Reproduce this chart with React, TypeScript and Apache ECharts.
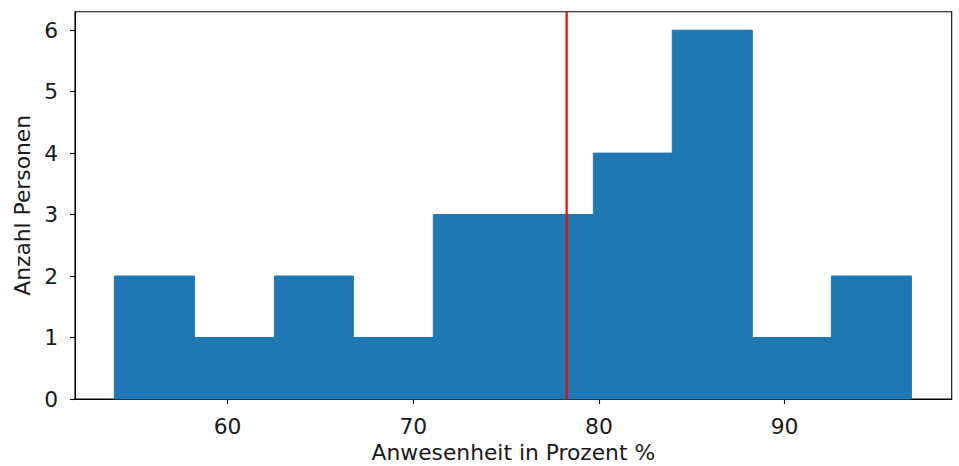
import React, { useEffect, useRef } from "react";
import * as echarts from "echarts";

// Histogram bin edges (Anwesenheit in Prozent %)
const BIN_EDGES: number[] = [53.9, 58.21, 62.52, 66.77, 71.08, 75.39, 79.7, 83.95, 88.26, 92.52, 96.83];
// Count of persons in each bin
const COUNTS: number[] = [2, 1, 2, 1, 3, 3, 4, 6, 1, 2];
// Red reference line (mean attendance)
const MEAN_VALUE = 78.26;
// Axis tick values
const X_TICKS: number[] = [60, 70, 80, 90];
const Y_TICKS: number[] = [0, 1, 2, 3, 4, 5, 6];
const X_MIN = 51.78;
const X_MAX = 99.0;
const Y_MAX = 6.3;

const X_LABEL = "Anwesenheit in Prozent %";
const Y_LABEL = "Anzahl Personen";

const FONT = "DejaVu Sans";
const FS = 21.8;
const TEXT_COLOR = "#1a1a1a";

export default function App() {
  const ref = useRef<HTMLDivElement>(null);

  useEffect(() => {
    if (!ref.current) return;
    const chart = echarts.init(ref.current, null, { renderer: "svg" });

    const histData = COUNTS.map((c, i) => [BIN_EDGES[i], BIN_EDGES[i + 1], c]);

    chart.setOption({
      animation: false,
      backgroundColor: "#ffffff",
      grid: {
        left: 75,
        right: 7.3,
        top: 11.7,
        bottom: 67,
        containLabel: false,
        outerBoundsMode: "none",
        show: true,
        borderColor: "#000",
        borderWidth: 1.1,
        backgroundColor: "transparent",
      },
      xAxis: {
        type: "value",
        min: X_MIN,
        max: X_MAX,
        name: X_LABEL,
        nameLocation: "middle",
        nameGap: 45,
        nameTextStyle: { fontFamily: FONT, fontSize: FS, color: TEXT_COLOR, lineHeight: 16 },
        axisLine: { show: true, onZero: false, lineStyle: { color: "#000", width: 1.1 } },
        axisTick: { show: true, inside: false, length: 5, customValues: X_TICKS, lineStyle: { color: "#000", width: 1.1 } },
        axisLabel: { customValues: X_TICKS, margin: 16, fontFamily: FONT, fontSize: FS, color: TEXT_COLOR },
        splitLine: { show: false },
      },
      yAxis: {
        type: "value",
        min: 0,
        max: Y_MAX,
        name: Y_LABEL,
        nameLocation: "middle",
        nameGap: 42,
        nameTextStyle: { fontFamily: FONT, fontSize: FS, color: TEXT_COLOR },
        axisLine: { show: true, lineStyle: { color: "#000", width: 1.1 } },
        axisTick: { show: true, inside: false, length: 5, customValues: Y_TICKS, lineStyle: { color: "#000", width: 1.1 } },
        axisLabel: { customValues: Y_TICKS, margin: 17, fontFamily: FONT, fontSize: FS, color: TEXT_COLOR },
        splitLine: { show: false },
      },
      series: [
        {
          type: "custom",
          name: Y_LABEL,
          data: histData,
          encode: { x: [0, 1], y: 2 },
          renderItem: (params: any, api: any) => {
            const x0 = api.value(0);
            const x1 = api.value(1);
            const y = api.value(2);
            const p0 = api.coord([x0, y]);
            const p1 = api.coord([x1, 0]);
            return {
              type: "rect",
              shape: { x: p0[0], y: p0[1], width: p1[0] - p0[0], height: p1[1] - p0[1] },
              style: { fill: "#1f77b4", stroke: "#1f77b4", lineWidth: 1 },
            };
          },
          z: 2,
        },
        {
          type: "line",
          name: "Mittelwert",
          data: [
            [MEAN_VALUE, 0],
            [MEAN_VALUE, Y_MAX],
          ],
          showSymbol: false,
          symbol: "none",
          lineStyle: { color: "#ff0000", width: 2.2 },
          z: 3,
        },
      ],
    });

    return () => chart.dispose();
  }, []);

  return (
    <div
      ref={ref}
      style={{ position: "fixed", left: 0, top: 0, width: 959, height: 466, background: "#fff" }}
    />
  );
}
